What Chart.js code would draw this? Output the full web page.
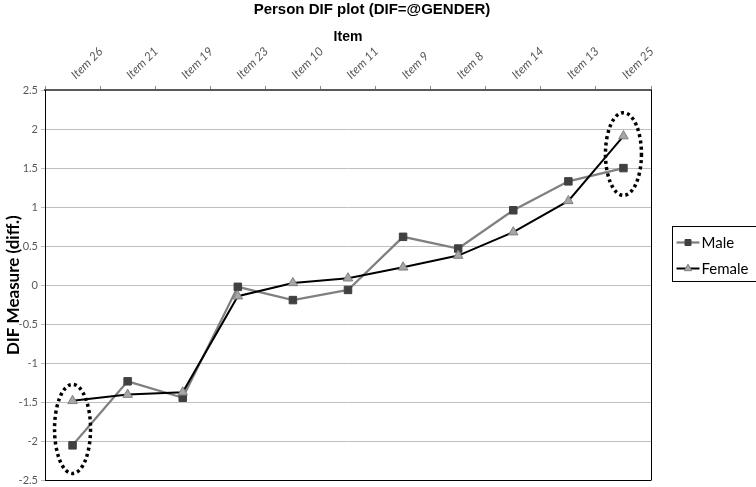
<!DOCTYPE html>
<html>
<head>
<meta charset="utf-8">
<script src="https://cdn.jsdelivr.net/npm/chart.js@4.4.0/dist/chart.umd.min.js"></script>
<style>
  body { margin: 0; background: #fff; }
  #wrap { width: 756px; height: 487px; }
</style>
</head>
<body>
<div id="wrap"><canvas id="difChart" width="756" height="487"></canvas></div>
<script>
const chartTitle = 'Person DIF plot (DIF=@GENDER)';
const categories = ['Item 26', 'Item 21', 'Item 19', 'Item 23', 'Item 10', 'Item 11', 'Item 9', 'Item 8', 'Item 14', 'Item 13', 'Item 25'];
const maleValues = [-2.05, -1.23, -1.44, -0.02, -0.19, -0.06, 0.62, 0.47, 0.96, 1.33, 1.50];
const femaleValues = [-1.48, -1.40, -1.37, -0.14, 0.03, 0.09, 0.23, 0.38, 0.68, 1.08, 1.91];
const yMin = -2.5, yMax = 2.5, yStep = 0.5;

// dotted rings drawn around these items (value range covered)
const ringItems = ['Item 26', 'Item 25'];
const ringLow = [-2.41, 1.15];
const ringHigh = [-1.27, 2.21];

const tickFont = 'Lato, "Open Sans", sans-serif';
const headFont = '"Liberation Sans Narrow", "Liberation Sans", Arial, sans-serif';

const decor = {
  id: 'decor',
  beforeDatasetsDraw(chart) {
    const { ctx, chartArea: a } = chart;
    ctx.save();
    ctx.strokeStyle = '#000';
    ctx.lineWidth = 1;
    ctx.beginPath();
    ctx.moveTo(Math.round(a.right) + 0.5, a.top);
    ctx.lineTo(Math.round(a.right) + 0.5, a.bottom);
    ctx.moveTo(a.left, Math.round(a.bottom) - 0.5);
    ctx.lineTo(a.right, Math.round(a.bottom) - 0.5);
    ctx.stroke();
    ctx.restore();
  },
  afterDatasetsDraw(chart) {
    const { ctx, scales } = chart;
    ctx.save();
    ctx.strokeStyle = '#000';
    ctx.lineWidth = 3.5;
    ctx.setLineDash([3, 3.2]);
    ringItems.forEach((item, i) => {
      const cx = scales.x.getPixelForValue(categories.indexOf(item));
      const yTop = scales.y.getPixelForValue(ringHigh[i]);
      const yBot = scales.y.getPixelForValue(ringLow[i]);
      ctx.beginPath();
      ctx.ellipse(cx, (yTop + yBot) / 2, 18, (yBot - yTop) / 2, 0, 0, Math.PI * 2);
      ctx.stroke();
    });
    ctx.restore();
  },
  afterDraw(chart) {
    const { ctx, chartArea: a } = chart;
    ctx.save();
    // main title
    ctx.fillStyle = '#000';
    ctx.font = 'bold 15px ' + headFont;
    ctx.textAlign = 'center';
    ctx.textBaseline = 'middle';
    ctx.fillText(chartTitle, 372, 10);

    // legend box, sits a bit above the plot middle
    const bx = Math.round(a.right) + 21.5;
    const bh = 55;
    const by = Math.round((a.top + a.bottom) / 2 - bh / 2 - 32) + 0.5;
    ctx.strokeStyle = '#000';
    ctx.lineWidth = 1;
    ctx.strokeRect(bx, by, 84, bh);

    chart.data.datasets.forEach((ds, i) => {
      const y = by + 16 + i * 26;
      ctx.strokeStyle = ds.borderColor;
      ctx.lineWidth = ds.borderWidth;
      ctx.beginPath();
      ctx.moveTo(bx + 4, y);
      ctx.lineTo(bx + 27, y);
      ctx.stroke();
      ctx.fillStyle = ds.pointBackgroundColor;
      ctx.strokeStyle = ds.pointBorderColor;
      ctx.lineWidth = ds.pointBorderWidth;
      Chart.helpers.drawPoint(ctx, {
        pointStyle: ds.pointStyle,
        radius: ds.pointRadius * 0.8,
        borderWidth: ds.pointBorderWidth
      }, bx + 15.5, y);
      ctx.fillStyle = '#000';
      ctx.font = '15px ' + tickFont;
      ctx.textAlign = 'left';
      ctx.fillText(ds.label, bx + 29, y + 1);
    });
    ctx.restore();
  }
};

new Chart(document.getElementById('difChart'), {
  type: 'line',
  data: {
    labels: categories,
    datasets: [
      {
        label: 'Male',
        data: maleValues,
        borderColor: '#808080',
        borderWidth: 2.25,
        pointStyle: 'rect',
        pointRadius: 5.3,
        pointBackgroundColor: '#404040',
        pointBorderColor: '#404040',
        pointBorderWidth: 1,
        tension: 0,
        order: 2
      },
      {
        label: 'Female',
        data: femaleValues,
        borderColor: '#000000',
        borderWidth: 2,
        pointStyle: 'triangle',
        pointRadius: 5.5,
        pointBackgroundColor: '#a6a6a6',
        pointBorderColor: '#7f7f7f',
        pointBorderWidth: 1,
        tension: 0,
        order: 1
      }
    ]
  },
  options: {
    responsive: false,
    animation: false,
    layout: { padding: { top: 20, right: 105, bottom: 4, left: 0 } },
    plugins: {
      legend: { display: false },
      title: { display: false },
      tooltip: { enabled: false }
    },
    scales: {
      x: {
        position: 'top',
        offset: true,
        grid: { drawOnChartArea: false, offset: true, tickLength: 4, color: '#8c8c8c' },
        border: { color: '#595959', width: 2 },
        ticks: {
          font: { family: tickFont, size: 12, style: 'italic' },
          color: '#595959',
          minRotation: 45,
          maxRotation: 45,
          labelOffset: 11,
          padding: 4
        },
        title: {
          display: true,
          text: 'Item',
          font: { family: headFont, size: 14, weight: 'bold' },
          color: '#000',
          padding: { top: 9, bottom: 0 }
        },
        afterFit(scale) { scale.height = 70; }
      },
      y: {
        min: yMin,
        max: yMax,
        grid: { color: '#bfbfbf', lineWidth: 1, tickLength: 4 },
        border: { color: '#000', width: 1 },
        ticks: {
          stepSize: yStep,
          font: { family: tickFont, size: 11 },
          color: '#595959',
          padding: 3,
          callback: (v) => String(Math.round(v * 10) / 10)
        },
        title: {
          display: true,
          text: 'DIF Measure (diff.)',
          font: { family: tickFont, size: 17, weight: 'bold' },
          color: '#000',
          padding: { top: 3, bottom: 0 }
        },
        afterFit(scale) {
          scale.width = 45;
          // let the plot run down to the canvas edge like the original
          scale.getPadding = () => ({ left: 0, top: 0, right: 0, bottom: 0 });
        }
      }
    }
  },
  plugins: [decor]
});
</script>
</body>
</html>
